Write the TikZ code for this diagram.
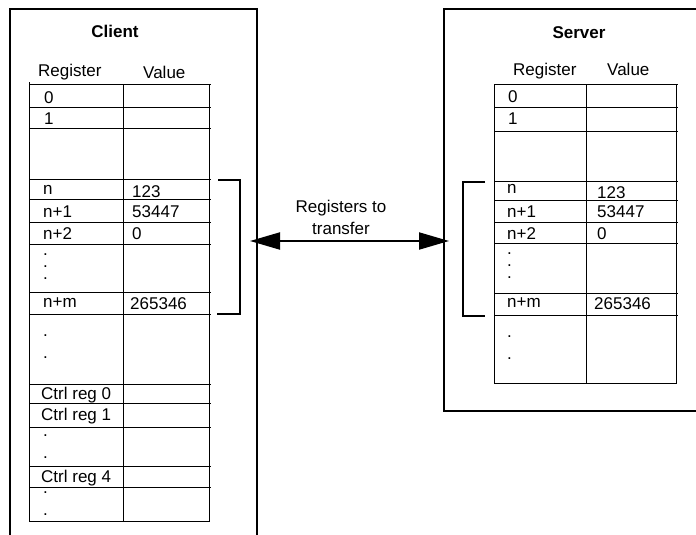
\documentclass[tikz,border=0pt]{standalone}
\usepackage{fontspec}
\setmainfont{Liberation Sans}
\usetikzlibrary{arrows.meta}
\begin{document}
\begin{tikzpicture}[x=1pt,y=-1pt,
  frame/.style={line width=2.2pt},
  gridline/.style={line width=1pt},
  brk/.style={line width=2pt},
  txt/.style={anchor=base west,inner sep=0pt,font=\fontsize{17}{20}\selectfont},
  ttl/.style={anchor=base,inner sep=0pt,font=\fontsize{17}{20}\selectfont\bfseries},
  lbl/.style={anchor=base,inner sep=0pt,align=center,font=\fontsize{17}{22}\selectfont},
  dots3/.style={anchor=base west,inner sep=0pt,align=left,font=\fontsize{17}{12}\selectfont},
  dots2/.style={anchor=base west,inner sep=0pt,align=left,font=\fontsize{17}{22}\selectfont},
]
\useasboundingbox (0,0) rectangle (696,535);
% frames
\draw[frame] (10,540) -- (10,9) -- (257,9) -- (257,540);
\draw[frame] (700,9) -- (444,9) -- (444,411) -- (700,411);
% titles
\node[ttl] (ctitle) at (115,38) {Client};
\node[ttl] (stitle) at (579,39) {Server};
\node[txt] (creg) at (38,77) {Register};
\node[txt] (cval) at (143,78) {Value};
\node[txt] (sreg) at (513,75) {Register};
\node[txt] (sval) at (607,76) {Value};
% client table
\draw[gridline] (29,82) -- (29,521) -- (209,521) -- (209,84);
\draw[gridline] (123,84) -- (123,521);
\foreach \y in {84,107,128,179,199,222,244,292,314,384,403,427,466,487}
  \draw[gridline] (29,\y) -- (211,\y);
% server table
\draw[gridline] (494,84) -- (494,383) -- (676,383) -- (676,84);
\draw[gridline] (586,84) -- (586,383);
\foreach \y in {84,107,131,181,200,222,243,293,315}
  \draw[gridline] (494,\y) -- (678,\y);
% client entries
\node[txt] (c0) at (44,103) {0};
\node[txt] (c1) at (44,124) {1};
\node[txt] (cn) at (43,194.5) {n};
\node[txt] (cnv) at (132,197) {123};
\node[txt] (cn1) at (43,217.5) {n+1};
\node[txt] (cn1v) at (132,217) {53447};
\node[txt] (cn2) at (43,239) {n+2};
\node[txt] (cn2v) at (132,239) {0};
\node[dots3] (cd1) at (43,279.5) {.\\.\\.};
\node[txt] (cnm) at (43,307) {n+m};
\node[txt] (cnmv) at (130,309) {265346};
\node[dots2] (cd2) at (43,358.5) {.\\.};
\node[txt] (cr0) at (41,399) {Ctrl reg 0};
\node[txt] (cr1) at (41,420) {Ctrl reg 1};
\node[dots2] (cd3) at (43,458.5) {.\\.};
\node[txt] (cr4) at (41,482.5) {Ctrl reg 4};
\node[dots2] (cd4) at (43,515.5) {.\\.};
% server entries
\node[txt] (s0) at (508,102.5) {0};
\node[txt] (s1) at (508,124) {1};
\node[txt] (sn) at (507,193) {n};
\node[txt] (snv) at (597,198) {123};
\node[txt] (sn1) at (507,217) {n+1};
\node[txt] (sn1v) at (597,217) {53447};
\node[txt] (sn2) at (507,239) {n+2};
\node[txt] (sn2v) at (597,239) {0};
\node[dots3] (sd1) at (507,278.5) {.\\.\\.};
\node[txt] (snm) at (507,307) {n+m};
\node[txt] (snmv) at (594,309) {265346};
\node[dots2] (sd2) at (507,359.5) {.\\.};
% brackets
\draw[brk] (218,180) -- (240,180) -- (240,314) -- (217,314);
\draw[brk] (485,182) -- (463,182) -- (463,316) -- (485,316);
% arrow
\coordinate (al) at (250,241);
\coordinate (ar) at (449,241);
\draw[line width=2pt,{Triangle[length=30pt,width=17pt]}-{Triangle[length=30pt,width=17pt]}] (al) -- (ar);
\node[lbl] (alabel) at (341,234) {Registers to\\transfer};
\end{tikzpicture}
\end{document}
